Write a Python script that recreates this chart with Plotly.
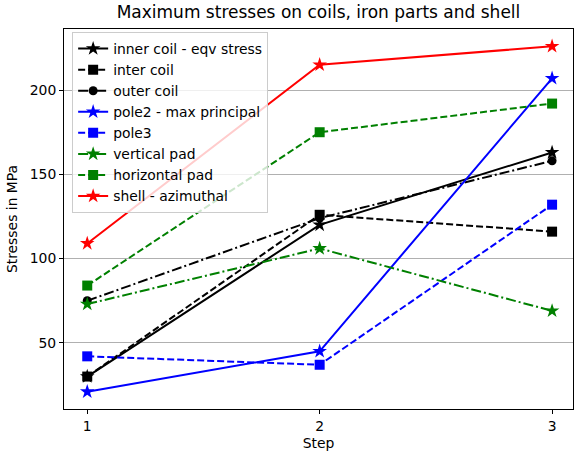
import plotly.graph_objects as go

steps = [1, 2, 3]
inner_coil = [30, 120, 163]
inter_coil = [30, 126, 116]
outer_coil = [75, 124, 158]
pole2 = [21, 45, 207]
pole3 = [42, 37, 132]
vertical_pad = [73, 106, 69]
horizontal_pad = [84, 175, 192]
shell = [109, 215, 226]

DASH = "7px,3px"
DASHDOT = "10px,3px,2px,3px"

series = [
    ("inner coil - eqv stress", inner_coil, "black", "solid", "star"),
    ("inter coil", inter_coil, "black", DASH, "square"),
    ("outer coil", outer_coil, "black", DASHDOT, "circle"),
    ("pole2 - max principal", pole2, "#0000ff", "solid", "star"),
    ("pole3", pole3, "#0000ff", DASH, "square"),
    ("vertical pad", vertical_pad, "#008000", DASHDOT, "star"),
    ("horizontal pad", horizontal_pad, "#008000", DASH, "square"),
    ("shell - azimuthal", shell, "#ff0000", "solid", "star"),
]

fig = go.Figure()
for name, vals, color, dash, sym in series:
    size = 11 if sym == "star" else (10 if sym == "square" else 9)
    fig.add_trace(go.Scatter(
        x=steps, y=vals, name=name, mode="lines+markers",
        line=dict(color=color, width=2, dash=dash),
        marker=dict(symbol=sym, size=size, color=color, line=dict(width=0)),
    ))

fig.update_layout(
    width=575, height=458,
    margin=dict(l=64, r=2, t=29, b=49, autoexpand=False),
    paper_bgcolor="white", plot_bgcolor="white",
    font=dict(family="DejaVu Sans", size=13.9, color="black"),
    title=dict(text="Maximum stresses on coils, iron parts and shell",
               x=0.5, xref="paper", xanchor="center", y=0.973, yanchor="middle",
               font=dict(size=17, color="black")),
    showlegend=True,
    legend=dict(x=0.016, y=0.992, xanchor="left", yanchor="top",
                bgcolor="rgba(255,255,255,0.8)", bordercolor="#cccccc", borderwidth=1,
                font=dict(size=13.9, color="black"), tracegroupgap=0,
                itemwidth=30),
)
fig.update_xaxes(
    range=[0.9, 3.09], tickvals=steps, ticktext=["1", "2", "3"], automargin=False,
    showgrid=False, zeroline=False, showline=True, linecolor="black", linewidth=1,
    mirror=True, ticks="outside", ticklen=4, tickcolor="black",
    title=dict(text="Step", font=dict(size=13.9), standoff=5),
    tickfont=dict(size=13.9),
)
fig.update_yaxes(
    range=[10.75, 236.25], tickvals=[50, 100, 150, 200], automargin=False,
    showgrid=True, gridcolor="#b0b0b0", gridwidth=1, zeroline=False,
    showline=True, linecolor="black", linewidth=1, mirror=True,
    ticks="outside", ticklen=4, tickcolor="black",
    title=dict(text="Stresses in MPa", font=dict(size=13.9), standoff=8),
    tickfont=dict(size=13.9),
)

fig.write_html("out.html", config={"displayModeBar": False},
               post_script="document.body.style.margin='0';document.body.style.overflow='hidden';")
